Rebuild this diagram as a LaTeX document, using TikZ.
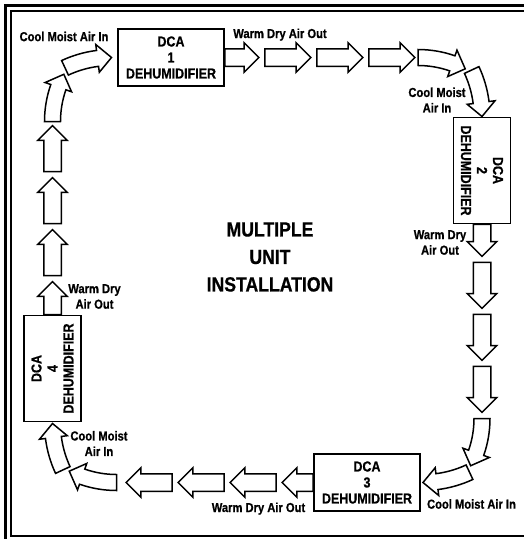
\documentclass[tikz,border=0pt]{standalone}
\usepackage{fontspec}
\newfontfamily\dcafont[FakeStretch=0.86, FakeBold=0.8]{Liberation Sans}
\usetikzlibrary{positioning,calc,shapes.arrows}

% block arrow bent along an arc: centre x, centre y, radius, start angle, end angle
\newcommand\arcflow[5]{%
  \pgfmathsetmacro\hdang{#5-14/#3*180/pi}%
  \pgfmathsetmacro\rout{#3+8}\pgfmathsetmacro\rin{#3-8}%
  \pgfmathsetmacro\hout{#3+14}\pgfmathsetmacro\hin{#3-14}%
  \draw[flowline, shift={(#1,#2)}] (#4:\rout) arc[start angle=#4, end angle=\hdang, radius=\rout]
    -- (\hdang:\hout) -- (#5:#3) -- (\hdang:\hin) -- (\hdang:\rin)
    arc[start angle=\hdang, end angle=#4, radius=\rin] -- cycle;
}

\begin{document}
\begin{tikzpicture}[x=1pt, y=-1pt,
  unit/.style={draw, line width=1.8pt, fill=white, align=center, inner sep=0pt,
    minimum width=106pt, minimum height=57pt,
    font=\dcafont\bfseries\fontsize{14.5}{16}\selectfont},
  flow/.style={draw, line width=1.5pt, fill=white, single arrow, single arrow head extend=6pt,
    inner xsep=0pt, inner ysep=8pt, outer sep=0pt, minimum height=46pt,
    anchor=tail, rotate=#1},
  flow/.default=0,
  flowline/.style={draw, line width=1.5pt, fill=white, line join=miter},
  lbl/.style={font=\dcafont\bfseries\fontsize{13}{15.5}\selectfont, align=center, inner sep=0pt},
  title/.style={font=\dcafont\bfseries\fontsize{20.5}{27.5}\selectfont, align=center, inner sep=0pt},
  elbow/.pic={
    \arcflow{-64}{104}{104}{-90}{-63}
    \arcflow{-110}{59}{110}{-25}{0}
  }
]
\useasboundingbox (0,0) rectangle (524,539);

% frame
\draw[line width=2.2pt] (524,5.5) -- (5.5,5.5) -- (5.5,539);
\draw[line width=1.4pt] (524,11) -- (11,11) -- (11,536) -- (524,536);

\node[unit] (dca1) at (171,57.5) {DCA\\1\\DEHUMIDIFIER};
\node[unit, rotate=-90] (dca2) at (482,170.5) {DCA\\2\\DEHUMIDIFIER};
\node[unit] (dca3) at (367,482.5) {DCA\\3\\DEHUMIDIFIER};
\node[unit, rotate=90] (dca4) at (52.5,368.5) {DCA\\4\\DEHUMIDIFIER};

% top row
\node[flow, minimum height=34pt] (t1) at (dca1.east) {};
\node[flow] (t2) at ($(t1.tip)+(6,0)$) {};
\node[flow] (t3) at ($(t2.tip)+(6,0)$) {};
\node[flow] (t4) at ($(t3.tip)+(6,0)$) {};
% right column
\node[flow=270, minimum height=32pt] (r1) at (dca2.east) {};
\node[flow=270] (r2) at ($(r1.tip)+(0,6)$) {};
\node[flow=270] (r3) at ($(r2.tip)+(0,6)$) {};
\node[flow=270] (r4) at ($(r3.tip)+(0,6)$) {};
% bottom row
\node[flow=180, minimum height=31pt] (b1) at (dca3.west) {};
\node[flow=180] (b2) at ($(b1.tip)+(-6,0)$) {};
\node[flow=180] (b3) at ($(b2.tip)+(-6,0)$) {};
\node[flow=180] (b4) at ($(b3.tip)+(-6,0)$) {};
% left column
\node[flow=90, minimum height=33pt] (l1) at (dca4.east) {};
\node[flow=90] (l2) at ($(l1.tip)+(0,-6)$) {};
\node[flow=90] (l3) at ($(l2.tip)+(0,-6)$) {};
\node[flow=90] (l4) at ($(l3.tip)+(0,-6)$) {};

% corners
\pic at (dca2 |- dca1) {elbow};
\pic[rotate=-90] at (dca2 |- dca3) {elbow};
\pic[rotate=180] at (dca4 |- dca3) {elbow};
\pic[rotate=90] at (dca4 |- dca1) {elbow};

\node[lbl] (in1) at (64,36.5) {Cool Moist Air In};
\node[lbl, anchor=base] (out1) at (280,38) {Warm Dry Air Out};
\node[lbl] (in2) at (437,100) {Cool Moist\\Air In};
\node[lbl] (out2) at (440,242.5) {Warm Dry\\Air Out};
\node[lbl] (in3) at (471.5,504) {Cool Moist Air In};
\node[lbl, anchor=base] (out3) at (258.5,512) {Warm Dry Air Out};
\node[lbl] (in4) at (99,443.5) {Cool Moist\\Air In};
\node[lbl] (out4) at (94.5,296.5) {Warm Dry\\Air Out};

\node[title] (mui) at (270,257) {MULTIPLE\\UNIT\\INSTALLATION};
\end{tikzpicture}
\end{document}
